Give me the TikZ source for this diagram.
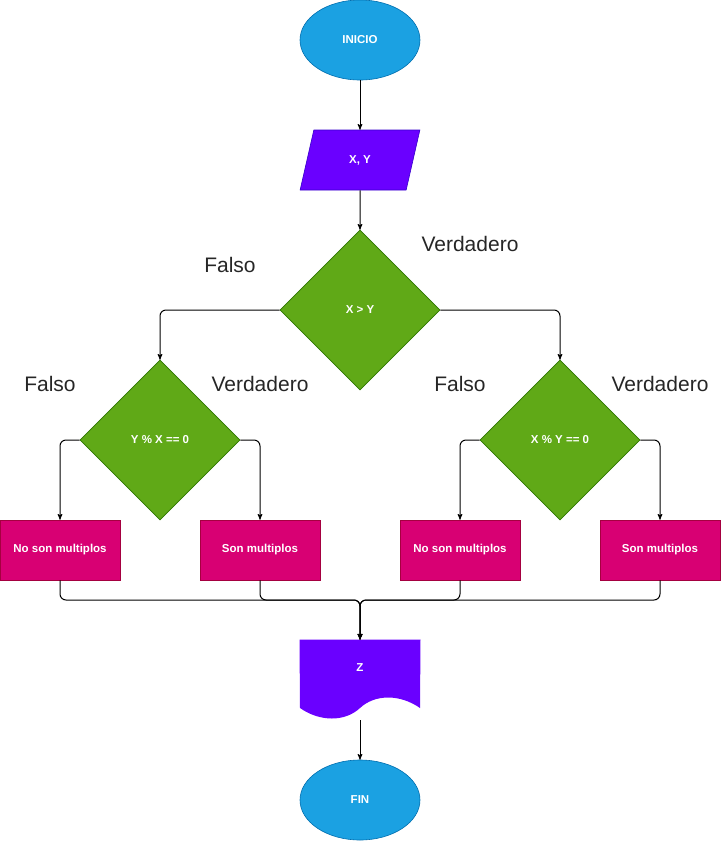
\documentclass[tikz,border=0pt]{standalone}
\usepackage{fontspec}
\setmainfont{Liberation Sans}
\usetikzlibrary{arrows,shapes.geometric,positioning}

\definecolor{azul}{HTML}{1BA1E2}
\definecolor{azulborde}{HTML}{006EAF}
\definecolor{violeta}{HTML}{6A00FF}
\definecolor{violetaborde}{HTML}{3700CC}
\definecolor{verde}{HTML}{60A917}
\definecolor{verdeborde}{HTML}{2D7600}
\definecolor{rosa}{HTML}{D80073}
\definecolor{rosaborde}{HTML}{A50040}

\begin{document}
\begin{tikzpicture}[x=1pt,y=-1pt,->,>=stealth',line width=1pt,
                    node distance=120pt,
  texto/.style={text=white,font=\fontsize{11.5}{14}\selectfont\bfseries},
  terminal/.style={ellipse,fill=azul,draw=azulborde,line width=0.6pt,
                   minimum width=120pt,minimum height=80pt,texto},
  datos/.style={trapezium,trapezium left angle=71.57,trapezium right angle=108.43,
                trapezium stretches=true,
                fill=violeta,draw=violetaborde,line width=0.6pt,
                minimum width=120pt,minimum height=60pt,inner sep=0pt,texto},
  decision/.style={diamond,fill=verde,draw=verdeborde,line width=0.6pt,
                   minimum width=160pt,minimum height=160pt,inner sep=0pt,texto},
  proceso/.style={rectangle,fill=rosa,draw=rosaborde,line width=0.6pt,
                  minimum width=120pt,minimum height=60pt,texto},
  etiqueta/.style={text=black!85,font=\fontsize{21}{25}\selectfont},
  linea/.style={rounded corners=6pt}]

 \useasboundingbox (0,0) rectangle (721,841);

 % columna central
 \node[terminal] (inicio) at (360,40) {INICIO};
 \node[datos]    (xy)   [below of=inicio]                   {X, Y};
 \node[decision] (mayor) [below of=xy, node distance=150pt] {X > Y};

 % ramas
 \node[decision] (modyx) at (160,440) {Y \% X == 0};
 \node[decision] (modxy) at (560,440) {X \% Y == 0};

 \node[proceso] (nom1) at (60,550)  {No son multiplos};
 \node[proceso] (som1) at (260,550) {Son multiplos};
 \node[proceso] (nom2) at (460,550) {No son multiplos};
 \node[proceso] (som2) at (660,550) {Son multiplos};

 % documento de salida
 \node[minimum width=120pt,minimum height=60pt] (salida) at (360,670) {};
 \fill[-,violeta] (salida.north west) -- (salida.north east) -- (420,708)
      .. controls (400,694) and (375,694) .. (360,708)
      .. controls (345,722) and (320,722) .. (300,708) -- cycle;
 \node[texto] (z) at (360,668) {Z};
 \coordinate (salidafin) at (360,720);
 \coordinate (junta) at (360,600);

 \node[terminal] (fin) at (360,800) {FIN};

 % etiquetas
 \node[etiqueta] (f0) at (230,265) {Falso};
 \node[etiqueta] (v0) at (470,244) {Verdadero};
 \node[etiqueta] (f1) at (50,384)  {Falso};
 \node[etiqueta] (v1) at (260,384) {Verdadero};
 \node[etiqueta] (f2) at (460,384) {Falso};
 \node[etiqueta] (v2) at (660,384) {Verdadero};

 \path (inicio) edge (xy)
       (xy)     edge (mayor)
       (salidafin) edge (fin);

 \draw[linea] (mayor.west) -| (modyx.north);
 \draw[linea] (mayor.east) -| (modxy.north);
 \draw[linea] (modyx.west) -| (nom1.north);
 \draw[linea] (modyx.east) -| (som1.north);
 \draw[linea] (modxy.west) -| (nom2.north);
 \draw[linea] (modxy.east) -| (som2.north);

 \draw[linea] (nom1.south) |- (junta) -- (salida.north);
 \draw[linea] (som1.south) |- (junta) -- (salida.north);
 \draw[linea] (nom2.south) |- (junta) -- (salida.north);
 \draw[linea] (som2.south) |- (junta) -- (salida.north);

\end{tikzpicture}
\end{document}
